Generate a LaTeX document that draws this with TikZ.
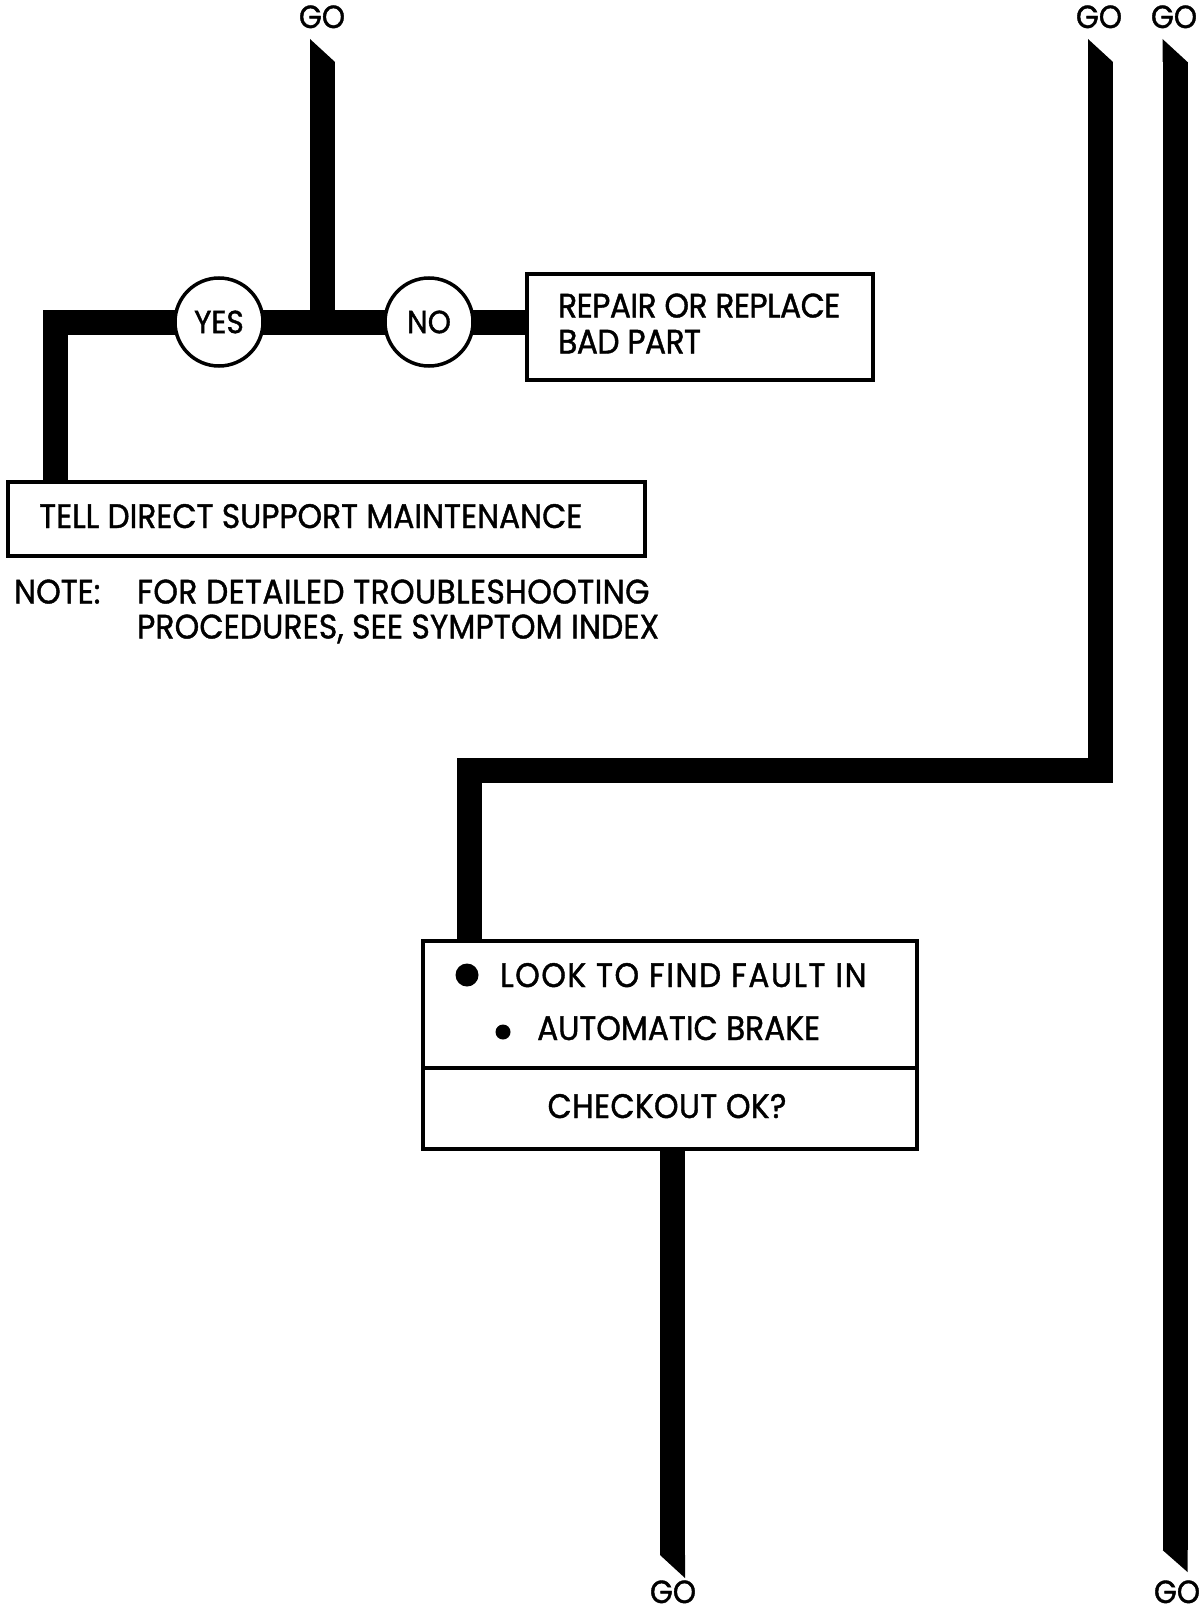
\documentclass[tikz,border=0pt]{standalone}
\usepackage{fontspec}
\setmainfont[FakeStretch=0.92,FakeBold=1.2]{Poppins}
\pgfdeclarelayer{bg}
\pgfsetlayers{bg,main}
\begin{document}
\begin{tikzpicture}[x=1pt,y=-1pt,
  bar/.style={line width=25pt, line join=miter},
  box/.style={draw, line width=3.5pt, rectangle, inner sep=0pt, anchor=north west},
  lbl/.style={font=\fontsize{34}{40}\selectfont, anchor=base west, inner sep=0pt},
  golbl/.style={font=\fontsize{32}{36}\selectfont, anchor=base, inner sep=0pt},
  ans/.style={draw, circle, line width=3.5pt, fill=white, minimum size=88pt, inner sep=0pt, font=\fontsize{32}{34}\selectfont},
  dot/.style={circle, fill, inner sep=0pt}]
\useasboundingbox (0,0) rectangle (1201,1616);
% boxes
\node[box, minimum width=346pt, minimum height=106pt] (repair) at (525,272) {};
\node[box, minimum width=637pt, minimum height=74pt] (tell) at (6,480) {};
\node[box, minimum width=494pt, minimum height=127pt] (look) at (421,939) {};
\node[box, minimum width=494pt, minimum height=81pt] (check) at (421,1066) {};
% circles
\node[ans] (yes) at (219,322) {YES};
\node[ans] (no) at (429,322) {NO};
% texts
\node[lbl] (t-rep1) at (558,317.5) {\addfontfeatures{LetterSpace=-1.5}REPAIR OR REPLACE};
\node[lbl] (t-rep2) at (558,353.5) {\addfontfeatures{LetterSpace=-1.5}BAD PART};
\node[lbl] (t-tell) at (39,528) {TELL DIRECT SUPPORT MAINTENANCE};
\node[lbl] (t-note) at (14,603.5) {NOTE:};
\node[lbl] (t-note1) at (137,603.5) {\addfontfeatures{LetterSpace=1.2}FOR DETAILED TROUBLESHOOTING};
\node[lbl] (t-note2) at (137,638.5) {\addfontfeatures{LetterSpace=0.5}PROCEDURES, SEE SYMPTOM INDEX};
\node[lbl] (t-look) at (500,987) {\addfontfeatures{LetterSpace=4.5}LOOK TO FIND FAULT IN};
\node[lbl] (t-auto) at (537,1040) {AUTOMATIC BRAKE};
\node[lbl, anchor=base] (t-check) at (667,1118) {\addfontfeatures{LetterSpace=1}CHECKOUT OK?};
\node[dot, minimum size=23pt] (bul1) at (467,975) {};
\node[dot, minimum size=15pt] (bul2) at (503,1032) {};
% GO labels
\node[golbl] (go1) at (322,28) {GO};
\node[golbl] (go2) at (1099,28) {GO};
\node[golbl] (go3) at (1174,28) {GO};
\node[golbl] (go4) at (673,1603) {GO};
\node[golbl] (go5) at (1177,1603) {GO};
% bar end points
\coordinate (t1) at (322.5,62);
\coordinate (t2) at (1100.5,62);
\coordinate (t3) at (1175,62);
\coordinate (b3) at (1175,1550);
\coordinate (b4) at (672.5,1555);
\coordinate (k1) at (55.5,322);
\coordinate (k2) at (469,770);
\begin{pgfonlayer}{bg}
\draw[bar] (t1) -- (t1 |- yes.center);
\draw[bar] (k1 |- tell.north) -- (k1) -- (yes.center) -- (no.center) -- (no.center -| repair.west);
\draw[bar] (t2) |- (k2) -- (k2 |- look.north);
\draw[bar] (t3) -- (b3);
\draw[bar] (b4 |- check.south) -- (b4);
% slanted ends
\fill (310,39) -- (335,62) -- (310,62) -- cycle;
\fill (1088,39) -- (1113,62) -- (1088,62) -- cycle;
\fill (1162.5,39) -- (1187.5,62) -- (1162.5,62) -- cycle;
\fill (660,1555) -- (685,1555) -- (685,1578) -- cycle;
\fill (1162.5,1550) -- (1187.5,1550) -- (1187.5,1572) -- cycle;
\end{pgfonlayer}
\end{tikzpicture}
\end{document}
